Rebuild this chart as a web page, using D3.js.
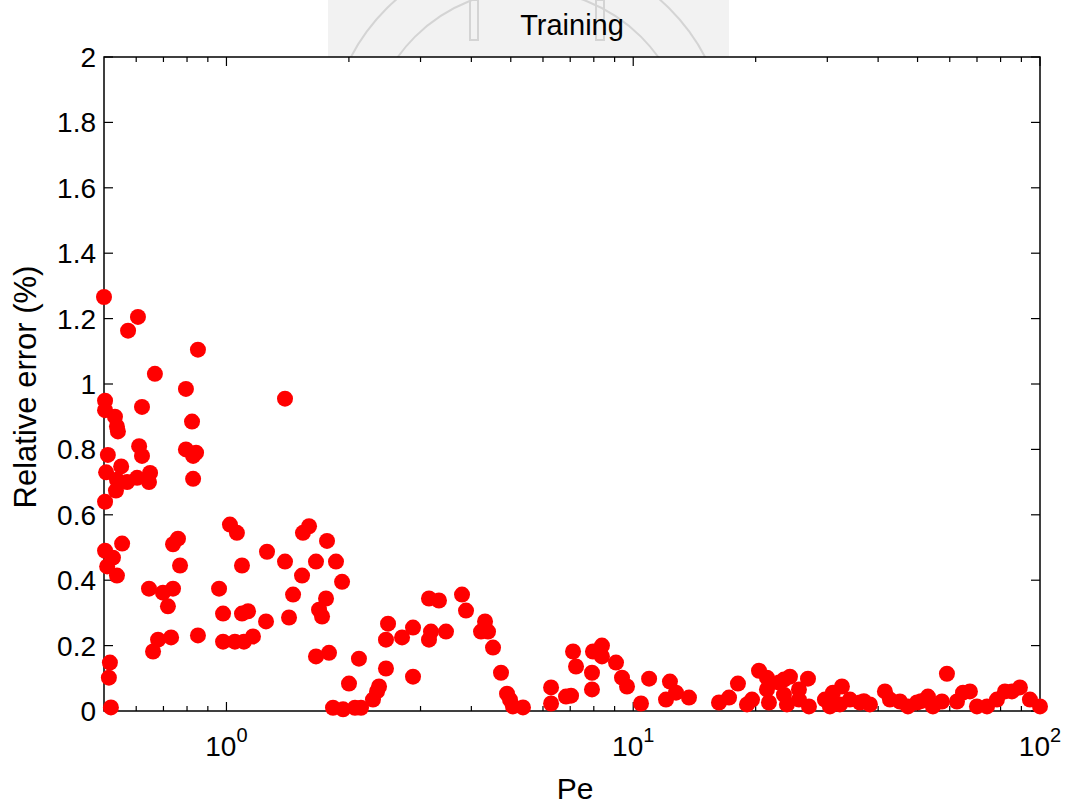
<!DOCTYPE html>
<html><head><meta charset="utf-8">
<script src="https://cdn.jsdelivr.net/npm/d3@7/dist/d3.min.js"></script>
<style>body{margin:0;background:#fff;overflow:hidden}text{font-family:"Liberation Sans",Arial,Helvetica,sans-serif;fill:#000}</style>
</head><body><svg id="c" width="1070" height="805"></svg>
<script>
// ---- data ----
const pe = [
 0.500,0.573,0.606,0.851,0.667,0.795,0.503,0.503,0.532,0.538,0.541,0.620,0.823,0.610,0.620,0.795,0.842,0.828,0.511,0.506,
 0.551,0.538,0.570,0.603,0.649,0.645,0.828,0.535,0.503,1.020,1.061,1.258,0.503,0.554,0.760,0.739,0.526,0.509,0.538,0.769,
 1.092,0.645,0.739,0.698,0.718,0.959,0.981,1.092,1.130,1.251,0.660,0.679,0.731,0.851,0.981,1.049,1.104,1.162,0.517,0.514,
 0.520,
 1.393,1.596,1.542,1.767,1.393,1.660,1.859,1.534,1.924,1.458,1.757,1.689,1.718,1.425,1.660,1.787,2.117,2.001,1.828,1.935,
 2.070,2.142,2.292,2.345,2.372,2.467,2.467,2.496,2.702,2.875,2.875,3.147,3.330,3.183,3.147,3.465,3.794,3.881,4.322,4.225,
 4.396,4.522,4.731,4.895,4.977,5.062,5.358,6.281,6.281,6.836,7.033,7.113,7.234,7.918,7.918,7.963,8.378,8.378,9.071,9.385,
 9.654,10.45,10.94,12.31,12.04,12.74,13.71,16.25,17.20,18.09,19.04,19.59,20.38,21.32,21.32,21.56,22.82,23.47,24.28,23.47,
 23.87,25.55,26.89,27.04,29.60,30.45,30.97,32.59,32.23,34.10,36.09,38.19,41.57,42.77,45.26,47.36,49.83,53.03,54.55,57.40,
 59.05,62.5,64.66,67.26,69.98,74.09,78.37,82.00,85.31,89.26,94.46,100.0,25.55,36.9,51.0
];
const err = [
 1.266,1.163,1.205,1.105,1.031,0.985,0.949,0.920,0.900,0.870,0.855,0.930,0.885,0.810,0.780,0.800,0.790,0.780,0.783,0.730,
 0.748,0.707,0.700,0.713,0.728,0.700,0.710,0.674,0.640,0.570,0.545,0.487,0.490,0.512,0.527,0.510,0.469,0.442,0.414,0.445,
 0.445,0.374,0.374,0.362,0.320,0.374,0.298,0.298,0.305,0.274,0.182,0.218,0.225,0.231,0.212,0.212,0.212,0.228,0.148,0.102,
 0.011,
 0.955,0.565,0.545,0.520,0.457,0.457,0.457,0.414,0.395,0.356,0.344,0.310,0.289,0.286,0.167,0.178,0.160,0.084,0.010,0.005,
 0.010,0.010,0.035,0.060,0.075,0.130,0.218,0.267,0.225,0.255,0.105,0.344,0.338,0.243,0.218,0.243,0.356,0.307,0.274,0.243,
 0.243,0.194,0.117,0.053,0.035,0.014,0.011,0.072,0.023,0.044,0.047,0.182,0.136,0.117,0.066,0.182,0.200,0.167,0.148,0.102,
 0.075,0.023,0.099,0.090,0.035,0.056,0.041,0.026,0.041,0.084,0.020,0.035,0.123,0.102,0.066,0.026,0.087,0.096,0.105,0.050,
 0.020,0.066,0.099,0.014,0.035,0.014,0.056,0.075,0.020,0.035,0.026,0.020,0.060,0.035,0.029,0.014,0.026,0.044,0.014,0.029,
 0.114,0.029,0.056,0.060,0.014,0.014,0.035,0.060,0.060,0.072,0.035,0.014,0.035,0.030,0.030
];
const yTicks = [0,0.2,0.4,0.6,0.8,1,1.2,1.4,1.6,1.8,2];
const yTickLabels = ["0","0.2","0.4","0.6","0.8","1","1.2","1.4","1.6","1.8","2"];
const xMajor = [1,10,100];
const xMajorExp = ["0","1","2"];
const xMinor = [0.6,0.7,0.8,0.9,2,3,4,5,6,7,8,9,20,30,40,50,60,70,80,90];
const titleText = "Training";
const xLabel = "Pe";
const yLabel = "Relative error (%)";

// ---- layout ----
const svg = d3.select("#c");
const L = 104, T = 57, R = 1040, B = 711;
const x = d3.scaleLog().domain([0.5,100]).range([L,R]);
const y = d3.scaleLinear().domain([0,2]).range([B,T]);

// watermark (faint seal behind the title)
const wm = svg.append("g");
wm.append("clipPath").attr("id","wmclip").append("rect").attr("x",328).attr("y",0).attr("width",401).attr("height",T);
wm.append("rect").attr("x",328).attr("y",0).attr("width",401).attr("height",T).attr("fill","#f2f2f2");
const wg = wm.append("g").attr("clip-path","url(#wmclip)").attr("fill","none").attr("stroke","#d4d4d4").attr("stroke-width",2);
wg.append("circle").attr("cx",528).attr("cy",150).attr("r",200);
wg.append("circle").attr("cx",528).attr("cy",150).attr("r",160);
wg.append("rect").attr("x",470).attr("y",0).attr("width",8).attr("height",40);
wg.append("rect").attr("x",596).attr("y",0).attr("width",8).attr("height",40);

// box
svg.append("rect").attr("x",L).attr("y",T).attr("width",R-L).attr("height",B-T)
  .attr("fill","none").attr("stroke","#000").attr("stroke-width",1.5);

const ax = svg.append("g").attr("stroke","#000").attr("stroke-width",1.2);
yTicks.forEach(v=>{
  ax.append("line").attr("x1",L).attr("x2",L+9).attr("y1",y(v)).attr("y2",y(v));
  ax.append("line").attr("x1",R).attr("x2",R-9).attr("y1",y(v)).attr("y2",y(v));
});
xMajor.forEach(v=>{
  ax.append("line").attr("x1",x(v)).attr("x2",x(v)).attr("y1",B).attr("y2",B-9);
  ax.append("line").attr("x1",x(v)).attr("x2",x(v)).attr("y1",T).attr("y2",T+9);
});
xMinor.forEach(v=>{
  ax.append("line").attr("x1",x(v)).attr("x2",x(v)).attr("y1",B).attr("y2",B-5);
  ax.append("line").attr("x1",x(v)).attr("x2",x(v)).attr("y1",T).attr("y2",T+5);
});

// y tick labels
svg.append("g").selectAll("text").data(yTicks).join("text")
  .attr("x",L-8).attr("y",d=>y(d)).attr("dy","0.36em").attr("text-anchor","end")
  .attr("font-size",28).text((d,i)=>yTickLabels[i]);

// x tick labels 10^n
xMajor.forEach((v,i)=>{
  const t = svg.append("text").attr("x",x(v)).attr("y",756).attr("text-anchor","middle").attr("font-size",28);
  t.append("tspan").text("10");
  t.append("tspan").attr("dy",-14).attr("font-size",20).text(xMajorExp[i]);
});

// labels
svg.append("text").attr("x",(L+R)/2+3).attr("y",799).attr("text-anchor","middle").attr("font-size",30).text(xLabel);
svg.append("text").attr("transform",`translate(36,${(T+B)/2+3}) rotate(-90)`).attr("text-anchor","middle").attr("font-size",31).text(yLabel);
svg.append("text").attr("x",572).attr("y",35).attr("text-anchor","middle").attr("font-size",29).text(titleText);

// points
svg.append("g").selectAll("circle").data(pe.map((p,i)=>[p,err[i]])).join("circle")
  .attr("cx",d=>x(d[0])).attr("cy",d=>y(d[1])).attr("r",8).attr("fill","#ff0000");
</script></body></html>
